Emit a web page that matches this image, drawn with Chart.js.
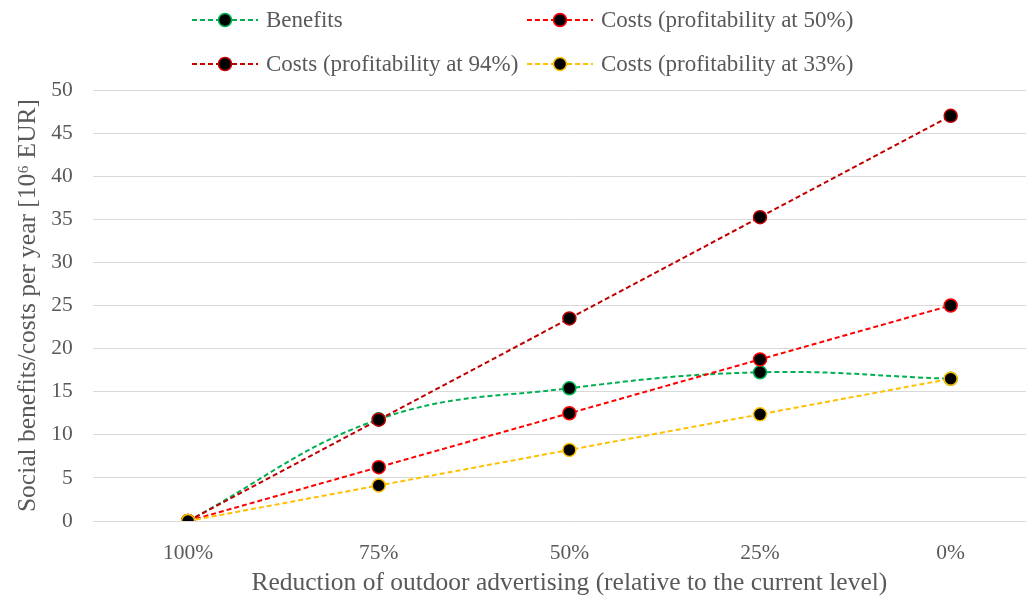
<!DOCTYPE html>
<html>
<head>
<meta charset="utf-8">
<script src="https://cdn.jsdelivr.net/npm/chart.js@4/dist/chart.umd.min.js"></script>
<style>
  html, body { margin: 0; padding: 0; background: #fff; overflow: hidden; }
  #wrap { width: 1026px; height: 599px; overflow: hidden; }
</style>
</head>
<body>
<div id="wrap"><canvas id="chart" width="1054" height="599"></canvas></div>
<script>
    // data
    const categories = ['100%', '75%', '50%', '25%', '0%']
    const benefits = [0, 11.8, 15.4, 17.25, 16.5]
    const costs50 = [0, 6.25, 12.5, 18.75, 25]
    const costs94 = [0, 11.75, 23.5, 35.25, 47]
    const costs33 = [0, 4.125, 8.25, 12.375, 16.5]
    const seriesNames = ['Benefits', 'Costs (profitability at 50%)',
        'Costs (profitability at 94%)', 'Costs (profitability at 33%)']

    const green = '#00B050'
    const red = '#FF0000'
    const darkRed = '#C00000'
    const amber = '#FFC000'
    const textGray = '#595959'
    const fontFamily = '"Liberation Serif", "DejaVu Serif", serif'

    function makeSet(label, data, color, order, tension) {
        return {
            label: label,
            data: data,
            borderColor: color,
            backgroundColor: color,
            borderWidth: 2,
            borderDash: [5, 3],
            tension: tension,
            pointRadius: 6.5,
            pointHoverRadius: 6.5,
            pointBackgroundColor: '#000',
            pointBorderColor: color,
            pointBorderWidth: 1.5,
            order: order
        }
    }

    // legend in two columns like the original (drawn on the canvas)
    const gridLegend = {
        id: 'gridLegend',
        afterDraw(chart) {
            const ctx = chart.ctx
            ctx.save()
            chart.data.datasets.forEach((ds, i) => {
                const x = 192 + (i % 2) * 335
                const y = 20 + Math.floor(i / 2) * 44
                ctx.strokeStyle = ds.borderColor
                ctx.lineWidth = 2
                ctx.setLineDash([5, 3])
                ctx.beginPath()
                ctx.moveTo(x, y)
                ctx.lineTo(x + 66, y)
                ctx.stroke()
                ctx.setLineDash([])
                ctx.beginPath()
                ctx.arc(x + 33, y, 6.5, 0, Math.PI * 2)
                ctx.fillStyle = '#000'
                ctx.fill()
                ctx.lineWidth = 1.5
                ctx.stroke()
                ctx.fillStyle = textGray
                ctx.font = '23px ' + fontFamily
                ctx.textBaseline = 'middle'
                ctx.fillText(ds.label, x + 74, y + 1)
            })
            ctx.restore()
        }
    }

    new Chart(document.getElementById('chart'), {
        type: 'line',
        data: {
            labels: categories,
            datasets: [
                makeSet(seriesNames[0], benefits, green, 4, 0.4),
                makeSet(seriesNames[1], costs50, red, 3, 0),
                makeSet(seriesNames[2], costs94, darkRed, 2, 0),
                makeSet(seriesNames[3], costs33, amber, 1, 0)
            ]
        },
        plugins: [gridLegend],
        options: {
            responsive: false,
            animation: false,
            events: [],
            layout: { padding: { top: 90, right: 0.5, left: 0, bottom: 0 } },
            plugins: {
                legend: { display: false },
                tooltip: { enabled: false }
            },
            scales: {
                x: {
                    offset: true,
                    border: { display: false },
                    grid: { display: false, drawTicks: false },
                    ticks: {
                        color: textGray,
                        padding: 19,
                        font: { family: fontFamily, size: 21.5 }
                    },
                    title: {
                        display: true,
                        text: 'Reduction of outdoor advertising (relative to the current level)',
                        color: textGray,
                        font: { family: fontFamily, size: 25.5 },
                        padding: { top: 0, bottom: 0.5 }
                    },
                    afterFit(scale) { scale.height = 78 }
                },
                y: {
                    min: 0,
                    max: 50,
                    border: { display: false },
                    grid: { color: '#d9d9d9', lineWidth: 1, drawTicks: false },
                    ticks: {
                        stepSize: 5,
                        color: textGray,
                        padding: 20,
                        font: { family: fontFamily, size: 21.5 }
                    },
                    title: {
                        display: true,
                        text: 'Social benefits/costs per year [10\u2076 EUR]',
                        color: textGray,
                        font: { family: fontFamily, size: 25.5 },
                        padding: { top: 13, bottom: 0 }
                    },
                    afterFit(scale) { scale.width = 92.75 }
                }
            }
        }
    })
</script>
</body>
</html>
